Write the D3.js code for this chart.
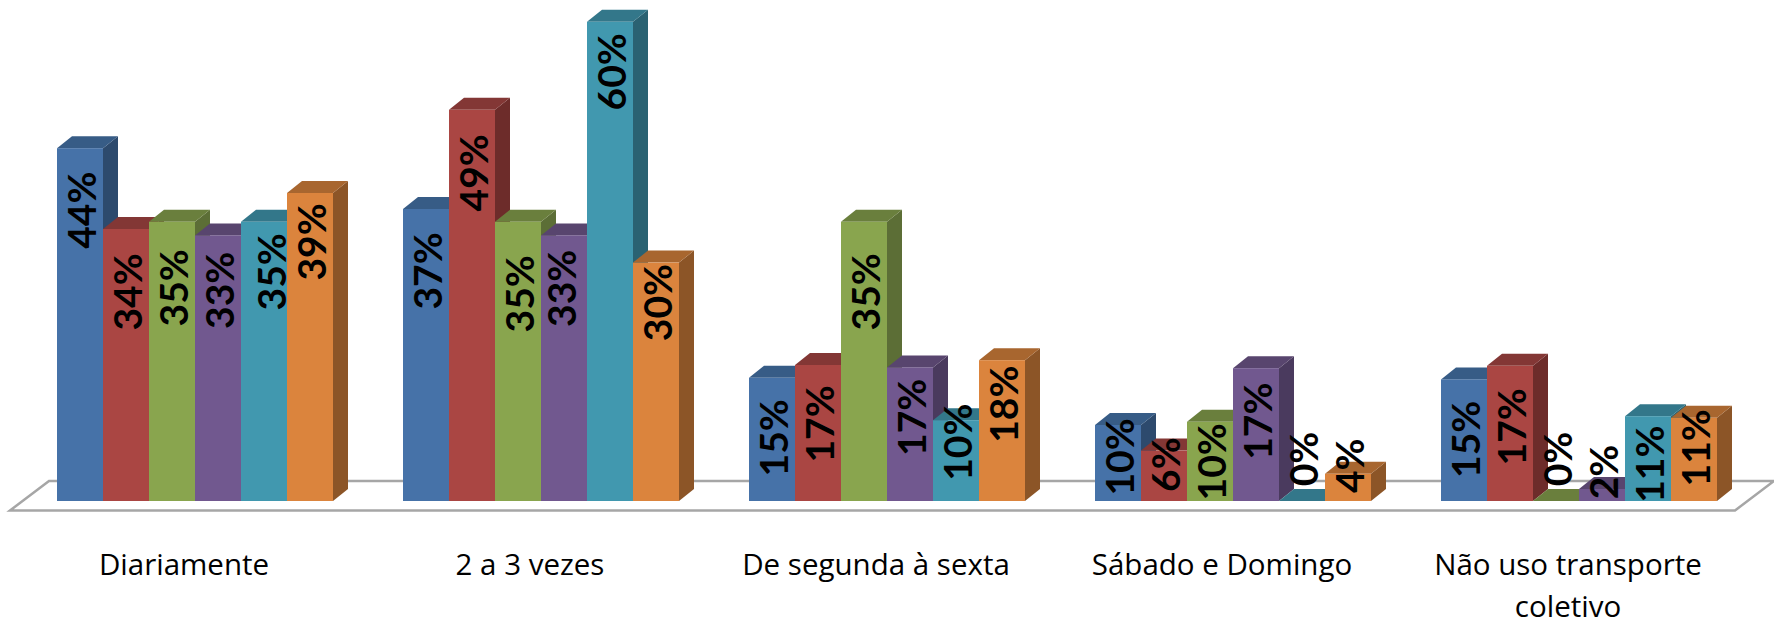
<!DOCTYPE html>
<html>
<head>
<meta charset="utf-8">
<style>
  html, body { margin: 0; padding: 0; background: #fff; }
</style>
<script src="https://cdn.jsdelivr.net/npm/d3@7"></script>
</head>
<body>
<div id="chart"></div>
<script>
// categories and series, bar heights
var categories = ["Diariamente", "2 a 3 vezes", "De segunda à sexta", "Sábado e Domingo", "Não uso transporte coletivo"];
var seriesNames = ["s1", "s2", "s3", "s4", "s5", "s6"];

var s1Values = [44.1, 36.5, 15.4, 9.5, 15.2];
var s2Values = [34.0, 48.9, 17.0, 6.3, 16.9];
var s3Values = [34.9, 34.9, 34.9, 9.9, 0];
var s4Values = [33.2, 33.2, 16.7, 16.6, 1.5];
var s5Values = [34.9, 59.9, 10.1, 0, 10.6];
var s6Values = [38.5, 29.8, 17.6, 3.4, 10.4];

// printed labels
var s1Labels = [44, 37, 15, 10, 15];
var s2Labels = [34, 49, 17, 6, 17];
var s3Labels = [35, 35, 35, 10, 0];
var s4Labels = [33, 33, 17, 17, 2];
var s5Labels = [35, 60, 10, 0, 11];
var s6Labels = [39, 30, 18, 4, 11];

var values = [s1Values, s2Values, s3Values, s4Values, s5Values, s6Values];
var labels = [s1Labels, s2Labels, s3Labels, s4Labels, s5Labels, s6Labels];

var svgWidth = 1774;
var svgHeight = 622;

// front, top, side colour for each series
var colors = [
  ["#4672a8", "#375c86", "#2d4a6d"],
  ["#aa4643", "#833735", "#6d2c2a"],
  ["#89a54e", "#6a7f3d", "#5c6e36"],
  ["#71588f", "#58456e", "#4a3a5e"],
  ["#4198af", "#33778a", "#2a6272"],
  ["#db843d", "#a8662f", "#8c5527"]
];

var depthX = 15;
var depthY = 12;
var baseY = 501;

// how far each value label sits below its bar top, px (the original placed them by hand)
var labelDrops = [
  [62, 62, 60, 32, 60],
  [63, 63, 59, 14, 61],
  [66, 72, 70, 40, -42],
  [55, 53, 50, 53, -17],
  [50, 50, 22, -42, 48],
  [49, 40, 44, -8, 30]
];

var svg = d3.select("#chart")
  .append("svg")
    .attr("width", svgWidth)
    .attr("height", svgHeight)
    .style("display", "block");

var x0 = d3.scaleBand()
  .domain(categories)
  .range([22, 1752])
  .paddingInner(70 / 346)
  .paddingOuter(35 / 346);

var x1 = d3.scaleBand()
  .domain(seriesNames)
  .range([0, x0.bandwidth()]);

var y = d3.scaleLinear()
  .domain([0, 60])
  .range([baseY, baseY - 480]);

// floor of the 3d plot
svg.append("path")
  .attr("d", "M10,510.5L49,481H1774L1735,510.5Z")
  .attr("fill", "none")
  .attr("stroke", "#a6a6a6")
  .attr("stroke-width", 2.5);

// bars, left to right so each front covers the side before it
categories.forEach(function(cat, c) {
  var g = svg.append("g").attr("transform", "translate(" + x0(cat) + ",0)");
  seriesNames.forEach(function(name, s) {
    var left = x1(name);
    var right = left + x1.bandwidth();
    var top = y(values[s][c]);
    g.append("path")
      .attr("d", "M" + right + "," + top + "l" + depthX + "," + (-depthY) + "V" + (baseY - depthY) + "l" + (-depthX) + "," + depthY + "Z")
      .attr("fill", colors[s][2]);
    g.append("path")
      .attr("d", "M" + left + "," + top + "l" + depthX + "," + (-depthY) + "H" + (right + depthX) + "l" + (-depthX) + "," + depthY + "Z")
      .attr("fill", colors[s][1]);
    g.append("rect")
      .attr("x", left)
      .attr("y", top)
      .attr("width", x1.bandwidth())
      .attr("height", baseY - top)
      .attr("fill", colors[s][0]);
  });
});

// category labels
var labelOffset = -11;
var axis = svg.append("g")
  .attr("font-family", "Open Sans")
  .attr("font-size", 29.5)
  .attr("fill", "#000");
var lineBreaks = {"Não uso transporte coletivo": ["Não uso transporte", "coletivo"]};
categories.forEach(function(cat) {
  var lines = lineBreaks[cat] || [cat];
  lines.forEach(function(line, i) {
    axis.append("text")
      .attr("x", x0(cat) + x0.bandwidth() / 2 + labelOffset)
      .attr("y", 575 + i * 42)
      .attr("text-anchor", "middle")
      .text(line);
  });
});

// value labels, rotated. two of them sit off centre in the original
var labelShifts = {"0,4": 6, "1,3": -4};
categories.forEach(function(cat, c) {
  seriesNames.forEach(function(name, s) {
    var cx = x0(cat) + x1(name) + x1.bandwidth() / 2 + (labelShifts[c + "," + s] || 0);
    var cy = y(values[s][c]) + labelDrops[s][c];
    svg.append("text")
      .attr("transform", "translate(" + (cx + 2) + "," + cy + ") rotate(-90)")
      .attr("text-anchor", "middle")
      .attr("dy", "0.35em")
      .attr("font-family", "Lato")
      .attr("font-weight", "700")
      .attr("font-size", 39)
      .attr("fill", "#000")
      .text(labels[s][c] + "%");
  });
});
</script>
</body>
</html>
